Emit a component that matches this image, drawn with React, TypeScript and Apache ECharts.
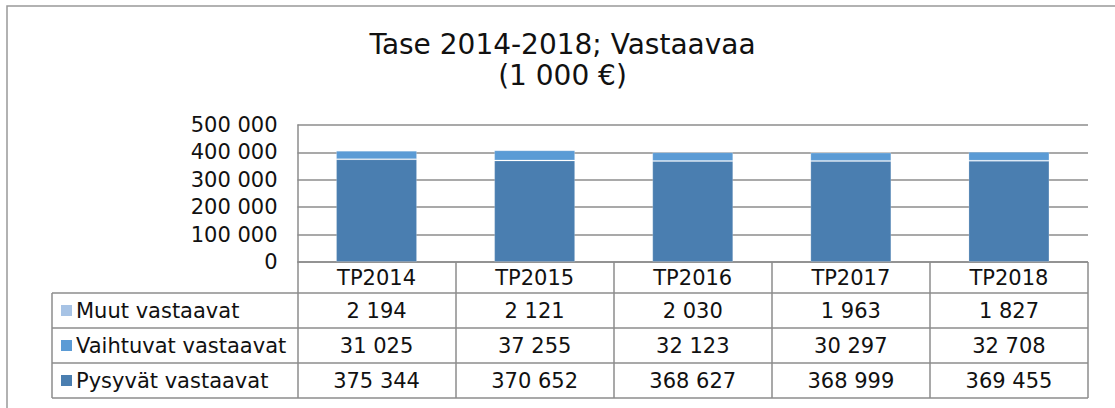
import React, { useEffect, useRef } from "react";
import * as echarts from "echarts";

const categories = ["TP2014", "TP2015", "TP2016", "TP2017", "TP2018"];
const muut = [2194, 2121, 2030, 1963, 1827];
const vaihtuvat = [31025, 37255, 32123, 30297, 32708];
const pysyvat = [375344, 370652, 368627, 368999, 369455];
const seriesNames = ["Muut vastaavat", "Vaihtuvat vastaavat", "Pysyvät vastaavat"];
const seriesColors = ["#a7c3e5", "#5b9bd5", "#4a7eb0"];
const titleLines = ["Tase 2014-2018; Vastaavaa", "(1 000 €)"];

const fmt = (v: number) => String(v).replace(/\B(?=(\d{3})+(?!\d))/g, " ");

const W = 1115;
const H = 408;
const FONT = "DejaVu Sans";
const FS = 21;
const gridLeft = 297.5;
const gridRight = 1088;
const gridTop = 125;
const gridBottom = 262;
const rowTops = [262, 293, 328, 363, 398];
const tableLeft = 52;
const lineColor = "#8c8c8c";

export default function App() {
  const ref = useRef<HTMLDivElement>(null);
  useEffect(() => {
    if (!ref.current) return;
    const chart = echarts.init(ref.current, null, { renderer: "svg" });
    const rows = [muut, vaihtuvat, pysyvat];
    const graphics: any[] = [];
    graphics.push({
      type: "rect",
      shape: { x: 7, y: 6, width: 1200, height: 500 },
      style: { fill: "none", stroke: "#999", lineWidth: 1.5 },
      silent: true,
    });
    titleLines.forEach((t, i) => {
      graphics.push({
        type: "text",
        x: 562.5,
        y: 44 + i * 31,
        style: {
          text: t,
          fontFamily: FONT,
          fontSize: 28,
          fill: "#111",
          textAlign: "center",
          textVerticalAlign: "middle",
        },
      });
    });
    graphics.push({
      type: "line",
      shape: { x1: gridLeft, y1: rowTops[0], x2: gridRight, y2: rowTops[0] },
      style: { stroke: lineColor, lineWidth: 1.5 },
    });
    for (let r = 1; r < rowTops.length; r++) {
      graphics.push({
        type: "line",
        shape: { x1: tableLeft, y1: rowTops[r], x2: gridRight, y2: rowTops[r] },
        style: { stroke: lineColor, lineWidth: 1.5 },
      });
    }
    graphics.push({
      type: "line",
      shape: { x1: tableLeft, y1: rowTops[1], x2: tableLeft, y2: rowTops[4] },
      style: { stroke: lineColor, lineWidth: 1.5 },
    });
    seriesNames.forEach((n, i) => {
      const cy = (rowTops[i + 1] + rowTops[i + 2]) / 2;
      graphics.push({
        type: "rect",
        shape: { x: 61, y: cy - 5.5, width: 11, height: 11 },
        style: { fill: seriesColors[i] },
      });
      graphics.push({
        type: "text",
        x: 76,
        y: cy,
        style: {
          text: n,
          fontFamily: FONT,
          fontSize: FS,
          fill: "#111",
          textAlign: "left",
          textVerticalAlign: "middle",
        },
      });
    });

    const rowAxes = rows.map((vals, i) => ({
      type: "category",
      gridIndex: 0,
      position: "bottom",
      data: vals.map(fmt),
      axisLine: { show: false },
      axisTick: { show: false },
      axisLabel: {
        margin: (rowTops[i + 1] + rowTops[i + 2]) / 2 - gridBottom,
        verticalAlign: "middle",
        fontFamily: FONT,
        fontSize: FS,
        color: "#111",
        interval: 0,
      },
    }));

    chart.setOption({
      animation: false,
      backgroundColor: "#fff",
      graphic: graphics,
      grid: {
        left: gridLeft,
        right: W - gridRight,
        top: gridTop,
        bottom: H - gridBottom,
        containLabel: false,
      },
      xAxis: [
        {
          type: "category",
          data: categories,
          axisLine: { show: false },
          axisTick: {
            show: true,
            inside: false,
            length: rowTops[4] - rowTops[0],
            lineStyle: { color: lineColor, width: 1.5 },
          },
          axisLabel: {
            margin: 15.5,
            verticalAlign: "middle",
            fontFamily: FONT,
            fontSize: FS,
            color: "#111",
            interval: 0,
          },
        },
        ...rowAxes,
      ],
      yAxis: {
        type: "value",
        min: 0,
        max: 500000,
        interval: 100000,
        axisLine: { show: true, lineStyle: { color: lineColor, width: 1.5 } },
        axisTick: { show: false },
        splitLine: { lineStyle: { color: lineColor, width: 1.5 } },
        axisLabel: {
          margin: 20,
          fontFamily: FONT,
          fontSize: FS,
          color: "#111",
          formatter: (v: number) => fmt(v),
        },
      },
      series: [
        { name: seriesNames[2], data: pysyvat, color: seriesColors[2] },
        { name: seriesNames[1], data: vaihtuvat, color: seriesColors[1] },
        { name: seriesNames[0], data: muut, color: seriesColors[0] },
      ].map((s) => ({
        type: "bar",
        stack: "total",
        name: s.name,
        data: s.data,
        barWidth: 81,
        itemStyle: { color: s.color, borderColor: "rgba(255,255,255,0.2)", borderWidth: 1 },
      })),
    });
    return () => chart.dispose();
  }, []);
  return (
    <div
      ref={ref}
      style={{ position: "fixed", left: 0, top: 0, width: W, height: H }}
    />
  );
}
